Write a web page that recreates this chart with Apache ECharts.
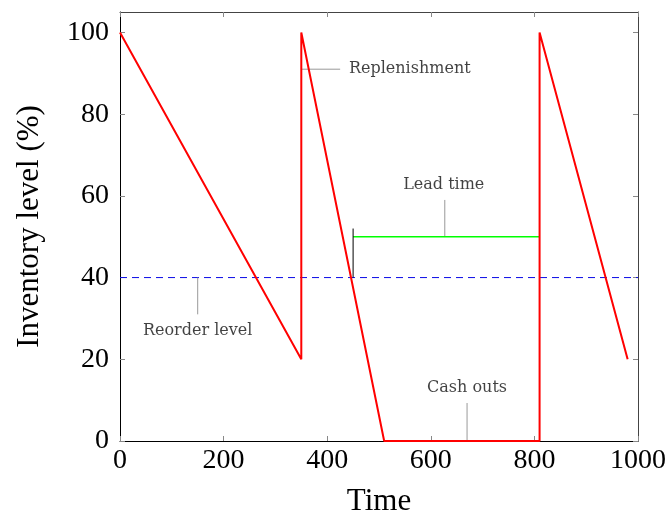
<!DOCTYPE html>
<html>
<head>
<meta charset="utf-8">
<script src="https://cdn.jsdelivr.net/npm/echarts@6/dist/echarts.min.js"></script>
<style>
  html, body { margin: 0; padding: 0; background: #fff; }
  #chart { width: 670px; height: 517px; }
</style>
</head>
<body>
<div id="chart"></div>
<script>
// Inventory level over time (saw-tooth replenishment cycle)
const inventoryTime  = [0, 350, 350, 510, 810, 810, 980];
const inventoryLevel = [100, 20, 100, 0, 0, 100, 20];

const reorderLevel = 40;
const leadTimeStart = 450;
const leadTimeEnd = 810;
const leadTimeLevel = 50;
const orderMarkLevels = [40, 52];

const xTicks = [0, 200, 400, 600, 800, 1000];
const yTicks = [0, 20, 40, 60, 80, 100];

// annotation texts, anchors and pin ends
const noteTexts = ['Replenishment', 'Lead time', 'Reorder level', 'Cash outs'];
const noteTextX = [442, 625, 150, 670];
const noteTextY = [91, 62.7, 27, 13];
const notePinFrom = [[350, 91], [627, 50], [150, 40], [670, 0]];
const notePinTo   = [[425, 91], [627, 59], [150, 31], [670, 9.3]];

const serif = '"Liberation Serif", "DejaVu Serif", serif';
const noteFont = '"DejaVu Serif", "Liberation Serif", serif';

const chart = echarts.init(document.getElementById('chart'), null, { renderer: 'canvas' });

const pinSeries = notePinFrom.map((p, i) => ({
  type: 'line',
  data: [p, notePinTo[i]],
  symbol: 'none',
  silent: true,
  lineStyle: { color: '#999', width: 1 },
  z: 2
}));

const plainNumber = v => String(v);

const option = {
  animation: false,
  grid: { left: 120, right: 32, top: 12, bottom: 76, containLabel: false, outerBoundsMode: 'none' },
  xAxis: [{
    type: 'value', min: 0, max: 1000,
    name: 'Time', nameLocation: 'middle', nameGap: 45,
    nameTextStyle: { fontFamily: serif, fontSize: 31, color: '#000' },
    axisLine: { onZero: false, lineStyle: { color: '#000', width: 1 } },
    axisTick: { inside: true, length: 5, customValues: xTicks, lineStyle: { color: '#888' } },
    axisLabel: { customValues: xTicks, formatter: plainNumber, fontFamily: serif, fontSize: 28, color: '#000', margin: 6 },
    splitLine: { show: false }
  }, {
    type: 'value', min: 0, max: 1000, position: 'top',
    axisLine: { show: true, onZero: false, lineStyle: { color: '#444' } },
    axisTick: { inside: true, length: 5, customValues: xTicks, lineStyle: { color: '#888' } },
    axisLabel: { show: false },
    splitLine: { show: false }
  }],
  yAxis: [{
    type: 'value', min: 0, max: 105,
    name: 'Inventory level (%)', nameLocation: 'middle', nameGap: 75,
    nameTextStyle: { fontFamily: serif, fontSize: 31, color: '#000' },
    axisLine: { show: true, onZero: false, lineStyle: { color: '#000', width: 1 } },
    axisTick: { show: true, inside: true, length: 5, customValues: yTicks, lineStyle: { color: '#888' } },
    axisLabel: { customValues: yTicks, formatter: plainNumber, fontFamily: serif, fontSize: 28, color: '#000', margin: 11 },
    splitLine: { show: false }
  }, {
    type: 'value', min: 0, max: 105, position: 'right',
    axisLine: { show: true, onZero: false, lineStyle: { color: '#444' } },
    axisTick: { show: true, inside: true, length: 5, customValues: yTicks, lineStyle: { color: '#888' } },
    axisLabel: { show: false },
    splitLine: { show: false }
  }],
  series: [
    {
      name: 'Reorder level',
      type: 'line',
      data: [[0, reorderLevel], [1000, reorderLevel]],
      symbol: 'none',
      lineStyle: { color: '#0a0ae6', width: 1, type: [7, 5] },
      z: 1
    },
    {
      name: 'Lead time',
      type: 'line',
      data: [[leadTimeStart, leadTimeLevel], [leadTimeEnd, leadTimeLevel]],
      symbol: 'none',
      lineStyle: { color: '#00ff00', width: 1.5 },
      z: 3
    },
    {
      name: 'Order placed',
      type: 'line',
      data: orderMarkLevels.map(v => [leadTimeStart, v]),
      symbol: 'none',
      lineStyle: { color: '#000', width: 1 },
      z: 3
    },
    ...pinSeries,
    {
      name: 'Inventory',
      type: 'line',
      data: inventoryTime.map((t, i) => [t, inventoryLevel[i]]),
      symbol: 'none',
      lineStyle: { color: '#ff0000', width: 2 },
      z: 5
    },
    {
      name: 'Notes',
      type: 'scatter',
      symbolSize: 0,
      silent: true,
      data: noteTexts.map((t, i) => ({ value: [noteTextX[i], noteTextY[i]], name: t })),
      label: {
        show: true,
        position: 'inside',
        formatter: p => p.name,
        fontFamily: noteFont,
        fontSize: 16,
        color: '#111'
      },
      z: 6
    }
  ]
};
// the Replenishment note is left-anchored at its point
option.series[option.series.length - 1].data[0].label = { align: 'left' };

chart.setOption(option);
</script>
</body>
</html>
